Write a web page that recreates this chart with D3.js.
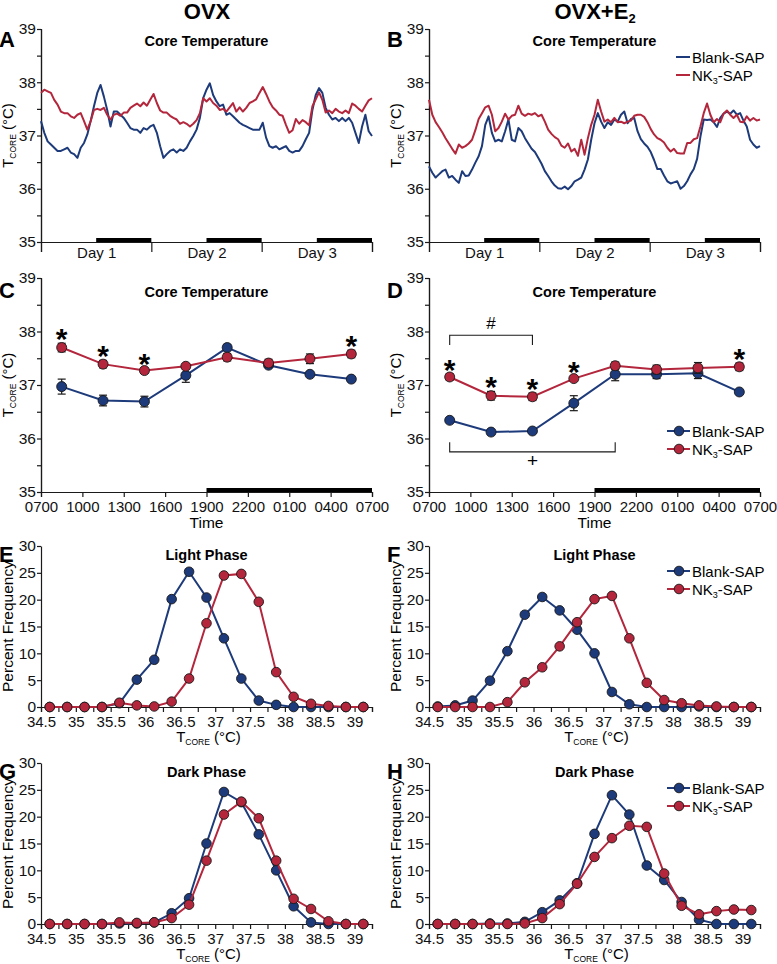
<!DOCTYPE html>
<html lang="en">
<head>
<meta charset="utf-8">
<title>Core temperature, OVX and OVX+E2</title>
<script src="https://d3js.org/d3.v7.min.js"></script>
<style>
  body { margin: 0; background: #fff; }
</style>
</head>
<body>
<svg width="777" height="964"></svg>
<script>
// ---------- data ----------

// A/B: 72 h traces, one sample every 0.72 h starting at 0700 day 1
var traceStepHours = 0.72;
var ovxBlankTrace = [37.27,37.05,36.89,36.83,36.77,36.71,36.71,36.74,36.77,36.68,
  36.65,36.58,36.77,36.86,37.02,37.27,37.55,37.80,37.95,37.73,
  37.48,37.17,37.45,37.45,37.39,37.33,37.24,37.14,37.11,37.11,
  37.05,37.14,37.11,37.17,37.20,37.05,36.80,36.58,36.65,36.71,
  36.74,36.68,36.74,36.71,36.77,36.89,36.99,37.11,37.33,37.70,
  37.86,37.98,37.76,37.64,37.55,37.58,37.39,37.42,37.36,37.30,
  37.24,37.20,37.17,37.14,37.11,37.11,37.11,37.24,36.96,36.80,
  36.77,36.80,36.74,36.77,36.80,36.71,36.68,36.71,36.71,36.80,
  36.93,37.05,37.48,37.76,37.89,37.80,37.52,37.39,37.30,37.33,
  37.27,37.33,37.27,37.33,37.24,37.05,36.86,37.17,37.39,37.08,
  36.99];
var ovxNk3Trace = [37.80,37.86,37.83,37.80,37.67,37.58,37.45,37.42,37.42,37.36,
  37.33,37.39,37.42,37.27,37.11,37.27,37.48,37.50,37.48,37.52,
  37.39,37.30,37.39,37.41,37.37,37.43,37.43,37.52,37.56,37.60,
  37.55,37.62,37.56,37.67,37.78,37.61,37.47,37.43,37.43,37.37,
  37.33,37.30,37.22,37.25,37.22,37.17,37.22,37.29,37.42,37.70,
  37.64,37.70,37.61,37.56,37.48,37.50,37.45,37.53,37.61,37.45,
  37.53,37.45,37.52,37.61,37.64,37.68,37.80,37.91,37.78,37.64,
  37.53,37.47,37.39,37.37,37.20,37.05,37.10,37.31,37.22,37.29,
  37.25,37.19,37.55,37.68,37.81,37.67,37.43,37.47,37.42,37.50,
  37.45,37.42,37.47,37.42,37.60,37.56,37.50,37.45,37.56,37.66,
  37.70];
var e2BlankTrace = [36.42,36.30,36.21,36.27,36.33,36.36,36.21,36.24,36.17,36.11,
  36.33,36.24,36.25,36.36,36.49,36.61,36.80,37.20,37.36,37.05,
  36.89,36.92,36.89,37.08,37.30,36.92,36.89,37.14,37.08,36.95,
  36.85,36.75,36.69,36.58,36.47,36.33,36.24,36.14,36.06,36.01,
  36.00,36.04,35.99,36.05,36.14,36.17,36.21,36.36,36.55,36.92,
  37.23,37.42,37.26,37.14,37.25,37.20,37.30,37.26,37.39,37.45,
  37.23,37.31,37.33,37.08,36.93,36.85,36.79,36.69,36.54,36.37,
  36.37,36.25,36.14,36.10,36.12,36.14,36.00,36.05,36.14,36.27,
  36.37,36.56,36.98,37.30,37.29,37.30,37.25,37.16,37.33,37.41,
  37.45,37.41,37.47,37.39,37.42,37.28,37.17,36.92,36.83,36.77,
  36.80];
var e2Nk3Trace = [37.67,37.39,37.25,37.16,37.06,36.95,36.85,36.75,36.66,36.83,
  36.77,36.80,36.85,36.92,37.10,37.31,37.42,37.53,37.56,37.39,
  37.08,37.14,37.26,37.41,37.30,37.37,37.39,37.56,37.41,37.37,
  37.41,37.39,37.42,37.36,37.39,37.26,37.11,37.03,36.97,36.93,
  36.81,36.77,36.85,36.70,36.75,36.62,36.92,36.64,36.95,37.20,
  37.39,37.67,37.45,37.26,37.30,37.25,37.33,37.25,37.26,37.23,
  37.26,37.28,37.37,37.39,37.39,37.35,37.25,37.12,37.02,36.95,
  36.92,36.87,36.77,36.70,36.75,36.67,36.66,36.66,36.86,36.86,
  36.93,36.95,37.17,37.42,37.60,37.39,37.25,37.31,37.25,37.41,
  37.47,37.39,37.33,37.39,37.26,37.25,37.36,37.28,37.33,37.28,
  37.30];
var dayLabels = ["Day 1", "Day 2", "Day 3"];

// C/D: 3 h bins, hours after 0700
var binTimes = [1.5, 4.5, 7.5, 10.5, 13.5, 16.5, 19.5, 22.5];
var timeTickLabels = ["0700","1000","1300","1600","1900","2200","0100","0400","0700"];
var ovxBlankMean = [36.97,36.71,36.69,37.18,37.70,37.37,37.20,37.11];
var ovxBlankSem  = [0.14,0.10,0.10,0.13,0.06,0.04,0.04,0.04];
var ovxNk3Mean   = [37.70,37.39,37.27,37.35,37.52,37.41,37.49,37.58];
var ovxNk3Sem    = [0.08,0.07,0.05,0.05,0.07,0.07,0.09,0.07];
var e2BlankMean  = [36.34,36.12,36.14,36.66,37.20,37.20,37.22,36.87];
var e2BlankSem   = [0.04,0.05,0.04,0.14,0.12,0.08,0.10,0.03];
var e2Nk3Mean    = [37.15,36.80,36.78,37.12,37.36,37.29,37.32,37.34];
var e2Nk3Sem     = [0.06,0.08,0.07,0.04,0.07,0.08,0.10,0.07];
var ovxStarBins  = [0, 1, 2, 7];
var e2StarBins   = [0, 1, 2, 3, 7];

// E-H: frequency distributions, 0.25 degC bins
var tempBins = [34.625,34.875,35.125,35.375,35.625,35.875,36.125,36.375,36.625,36.875,
  37.125,37.375,37.625,37.875,38.125,38.375,38.625,38.875,39.125];
var ovxLightBlank = [0,0,0,0,0.7,5.1,8.8,20.1,25.2,20.4,12.8,5.3,1.2,0.4,0,0,0,0,0];
var ovxLightNk3   = [0,0,0,0,0.8,0.3,0.1,1.0,5.3,15.6,24.5,24.8,19.6,6.5,1.9,0.6,0.2,0,0];
var e2LightBlank  = [0.1,0.3,1.2,4.9,10.4,17.2,20.5,18.0,14.4,10.0,2.8,0.5,0,0,0,0.1,0,0,0];
var e2LightNk3    = [0,0,0,0,0.9,4.6,7.4,11.3,15.8,20.1,20.7,12.8,4.5,1.3,0.7,0.3,0.1,0,0];
var ovxDarkBlank  = [0,0,0,0,0.1,0.1,0.3,2.0,4.8,15.0,24.6,22.7,16.7,10.0,3.3,0.3,0,0,0];
var ovxDarkNk3    = [0,0,0,0,0.3,0.2,0.3,1.1,3.6,11.8,20.4,22.8,19.7,11.8,4.7,2.8,0.5,0,0];
var e2DarkBlank   = [0,0,0,0.1,0.1,0.4,2.2,4.4,7.6,16.8,24.0,20.4,10.9,8.2,4.1,0.8,0,0,0];
var e2DarkNk3     = [0,0,0,0,0,0.1,1.1,3.7,7.5,12.5,16.0,18.3,18.1,9.4,3.4,1.8,2.4,2.7,2.6];

var tempTicks = [35, 36, 37, 38, 39];
var tempMinorTicks = [35.5, 36.5, 37.5, 38.5];
var freqTicks = [0, 5, 10, 15, 20, 25, 30];
var histLabelTicks = [34.5, 35, 35.5, 36, 36.5, 37, 37.5, 38, 38.5, 39];

// ---------- drawing ----------
var FONT = "'Liberation Sans', Arial, sans-serif";
var BLUE = "#1d3a7a", RED = "#b3263c", INK = "#1a1a1a";
var svg = d3.select("svg").attr("font-family", FONT);

var cols = [{x0: 41, x1: 372, off: 0}, {x0: 429, x1: 760, off: 388}];
var rowA = {top: 29, bottom: 242}, rowC = {top: 278, bottom: 492},
    rowE = {top: 546, bottom: 707}, rowG = {top: 763, bottom: 924};

function styleAxis(g, size) {
  g.attr("font-family", FONT).attr("font-size", size);
  g.selectAll("path.domain").attr("stroke", INK).attr("stroke-width", 1.2);
  g.selectAll(".tick line").attr("stroke", INK).attr("stroke-width", 1.2);
  g.selectAll(".tick text").attr("fill", "#111");
  return g;
}

function tcore(t, sub) {
  t.append("tspan").text("T");
  t.append("tspan").attr("font-size", sub).attr("dy", 3).text("CORE");
  t.append("tspan").attr("dy", -3).text(" (\u00B0C)");
}

function nk3Text(t) {
  t.append("tspan").text("NK");
  t.append("tspan").attr("font-size", 9).attr("dy", 3).text("3");
  t.append("tspan").attr("dy", -3).text("-SAP");
}

function panelLetter(col, y, letter) {
  svg.append("text").attr("x", col.off - 1).attr("y", y)
    .attr("font-size", 22).attr("font-weight", "bold").text(letter);
}

function panelTitle(col, y, txt) {
  svg.append("text").attr("x", (col.x0 + col.x1) / 2).attr("y", y)
    .attr("text-anchor", "middle").attr("font-size", 14.5)
    .attr("font-weight", "bold").text(txt);
}

function tempYAxis(col, y, row) {
  styleAxis(svg.append("g").attr("transform", "translate(" + col.x0 + ",0)")
    .call(d3.axisLeft(y).tickValues(tempMinorTicks).tickSize(4).tickFormat("")), 15);
  styleAxis(svg.append("g").attr("transform", "translate(" + col.x0 + ",0)")
    .call(d3.axisLeft(y).tickValues(tempTicks).tickSize(4).tickSizeOuter(0).tickPadding(1)
      .tickFormat(d3.format("d"))), 15.5);
  var lab = svg.append("text").attr("text-anchor", "middle").attr("font-size", 15)
    .attr("transform", "translate(" + (col.off + 13) + "," + ((row.top + row.bottom) / 2) + ") rotate(-90)");
  tcore(lab, 8.5);
}

function darkBars(x, y, from, to) {
  svg.append("rect").attr("x", x(from)).attr("y", y(35) - 4)
    .attr("width", x(to) - x(from)).attr("height", 4).attr("fill", "#000");
}

function lineLegend(x, y, withDots) {
  [{c: BLUE, name: "Blank-SAP"}, {c: RED, name: null}].forEach(function (s, i) {
    var yy = y + i * 18;
    svg.append("line").attr("x1", x - (withDots ? 25 : 16)).attr("x2", x - 2)
      .attr("y1", yy).attr("y2", yy).attr("stroke", s.c).attr("stroke-width", 2);
    if (withDots) {
      svg.append("circle").attr("cx", x - 13).attr("cy", yy).attr("r", 4.8)
        .attr("fill", s.c).attr("stroke", INK).attr("stroke-width", 0.9);
    }
    var t = svg.append("text").attr("x", x).attr("y", yy + 5.5).attr("font-size", 15);
    if (s.name) t.text(s.name); else nk3Text(t);
  });
}

// ---- A / B ----
function tracePanel(col, blank, nk3, letter, legend) {
  var x = d3.scaleLinear().domain([0, 72]).range([col.x0, col.x1]);
  var y = d3.scaleLinear().domain([35, 39]).range([rowA.bottom, rowA.top]);
  [[12, 24], [36, 48], [60, 72]].forEach(function (d) { darkBars(x, y, d[0], d[1]); });
  styleAxis(svg.append("g").attr("transform", "translate(0," + rowA.bottom + ")")
    .call(d3.axisBottom(x).tickValues([0, 24, 48, 72]).tickSize(10).tickFormat("")), 15);
  styleAxis(svg.append("g").attr("transform", "translate(0," + rowA.bottom + ")")
    .call(d3.axisBottom(x).tickValues([12, 36, 60]).tickSize(0).tickPadding(5)
      .tickFormat(function (d, i) { return dayLabels[i]; })), 15)
    .select("path.domain").remove();
  tempYAxis(col, y, rowA);
  var line = d3.line().x(function (d, i) { return x(i * traceStepHours); }).y(function (d) { return y(d); });
  svg.append("path").datum(blank).attr("d", line).attr("fill", "none")
    .attr("stroke", BLUE).attr("stroke-width", 2).attr("stroke-linejoin", "round");
  svg.append("path").datum(nk3).attr("d", line).attr("fill", "none")
    .attr("stroke", RED).attr("stroke-width", 2).attr("stroke-linejoin", "round");
  panelLetter(col, 47, letter);
  panelTitle(col, 46, "Core Temperature");
  if (legend) lineLegend(692, 57, false);
}

// ---- C / D ----
function binPanel(col, bm, bs, nm, ns, stars, letter, extra) {
  var x = d3.scaleLinear().domain([0, 24]).range([col.x0, col.x1]);
  var y = d3.scaleLinear().domain([35, 39]).range([rowC.bottom, rowC.top]);
  darkBars(x, y, 12, 24);
  styleAxis(svg.append("g").attr("transform", "translate(0," + rowC.bottom + ")")
    .call(d3.axisBottom(x).tickValues(d3.range(0, 25, 3)).tickSize(5).tickPadding(4)
      .tickFormat(function (d, i) { return timeTickLabels[i]; })), 15);
  tempYAxis(col, y, rowC);
  svg.append("text").attr("x", (col.x0 + col.x1) / 2).attr("y", 528)
    .attr("text-anchor", "middle").attr("font-size", 15.5).text("Time");

  [{m: bm, s: bs, c: BLUE}, {m: nm, s: ns, c: RED}].forEach(function (g) {
    svg.append("path").datum(g.m).attr("fill", "none").attr("stroke", g.c).attr("stroke-width", 2)
      .attr("d", d3.line().x(function (d, i) { return x(binTimes[i]); }).y(function (d) { return y(d); }));
    var eb = svg.append("g").attr("stroke", INK).attr("stroke-width", 1.2);
    g.m.forEach(function (v, i) {
      var cx = x(binTimes[i]), y1 = y(v + g.s[i]), y2 = y(v - g.s[i]);
      eb.append("line").attr("x1", cx).attr("x2", cx).attr("y1", y1).attr("y2", y2);
      eb.append("line").attr("x1", cx - 4).attr("x2", cx + 4).attr("y1", y1).attr("y2", y1);
      eb.append("line").attr("x1", cx - 4).attr("x2", cx + 4).attr("y1", y2).attr("y2", y2);
    });
    svg.append("g").selectAll("circle").data(g.m).enter().append("circle")
      .attr("cx", function (d, i) { return x(binTimes[i]); })
      .attr("cy", function (d) { return y(d); })
      .attr("r", 5).attr("fill", g.c).attr("stroke", INK).attr("stroke-width", 0.9);
  });
  stars.forEach(function (i) {
    var top = Math.min(y(nm[i] + ns[i]), y(bm[i] + bs[i]));
    svg.append("text").attr("x", x(binTimes[i])).attr("y", top + 6)
      .attr("text-anchor", "middle").attr("font-size", 30).attr("font-weight", "bold").text("*");
  });
  panelLetter(col, 298, letter);
  panelTitle(col, 297, "Core Temperature");
  if (extra) extra(x, y);
}

// ---- E-H ----
function histPanel(col, row, blank, nk3, letter, title, legend) {
  var x = d3.scaleLinear().domain([34.5, 39.25]).range([col.x0, col.x1]);
  var y = d3.scaleLinear().domain([0, 30]).range([row.bottom, row.top]);
  styleAxis(svg.append("g").attr("transform", "translate(0," + row.bottom + ")")
    .call(d3.axisBottom(x).tickValues(d3.range(34.75, 39.3, 0.5)).tickSize(5).tickFormat("")), 15);
  styleAxis(svg.append("g").attr("transform", "translate(0," + row.bottom + ")")
    .call(d3.axisBottom(x).tickValues(histLabelTicks).tickSize(5).tickSizeOuter(0).tickPadding(4)
      .tickFormat(function (d) { return String(d); })), 15);
  styleAxis(svg.append("g").attr("transform", "translate(" + col.x0 + ",0)")
    .call(d3.axisLeft(y).tickValues(freqTicks).tickSize(4).tickSizeOuter(0).tickPadding(1)
      .tickFormat(d3.format("d"))), 15.5);
  svg.append("text").attr("text-anchor", "middle").attr("font-size", 15.5)
    .attr("transform", "translate(" + (col.off + 13) + "," + ((row.top + row.bottom) / 2) + ") rotate(-90)")
    .text("Percent Frequency");
  var xl = svg.append("text").attr("x", (col.x0 + col.x1) / 2 + 2).attr("y", row.bottom + 35)
    .attr("text-anchor", "middle").attr("font-size", 15);
  tcore(xl, 8.5);

  [{v: blank, c: BLUE}, {v: nk3, c: RED}].forEach(function (g) {
    svg.append("path").datum(g.v).attr("fill", "none").attr("stroke", g.c).attr("stroke-width", 2)
      .attr("d", d3.line().x(function (d, i) { return x(tempBins[i]); }).y(function (d) { return y(d); }));
    svg.append("g").selectAll("circle").data(g.v).enter().append("circle")
      .attr("cx", function (d, i) { return x(tempBins[i]); })
      .attr("cy", function (d) { return y(d); })
      .attr("r", 4.8).attr("fill", g.c).attr("stroke", INK).attr("stroke-width", 0.9);
  });
  panelLetter(col, row.top + 16, letter);
  panelTitle(col, row.top + 14, title);
  if (legend) lineLegend(692, row.top + 25, true);
}

// column headers
svg.append("text").attr("x", 207).attr("y", 19).attr("text-anchor", "middle")
  .attr("font-size", 22).attr("font-weight", "bold").text("OVX");
var h2 = svg.append("text").attr("x", 595).attr("y", 19).attr("text-anchor", "middle")
  .attr("font-size", 22).attr("font-weight", "bold");
h2.append("tspan").text("OVX+E");
h2.append("tspan").attr("font-size", 13).attr("dy", 4).text("2");

tracePanel(cols[0], ovxBlankTrace, ovxNk3Trace, "A", false);
tracePanel(cols[1], e2BlankTrace, e2Nk3Trace, "B", true);

binPanel(cols[0], ovxBlankMean, ovxBlankSem, ovxNk3Mean, ovxNk3Sem, ovxStarBins, "C", null);
binPanel(cols[1], e2BlankMean, e2BlankSem, e2Nk3Mean, e2Nk3Sem, e2StarBins, "D", function (x, y) {
  var br = svg.append("g").attr("fill", "none").attr("stroke", INK).attr("stroke-width", 1.1);
  var xa = x(binTimes[0]), xb = x(binTimes[2]), xc = x(binTimes[4]);
  br.append("path").attr("d", "M" + xa + "," + y(37.75) + "V" + y(37.93) + "H" + xb + "V" + y(37.75));
  br.append("path").attr("d", "M" + xa + "," + y(35.93) + "V" + y(35.75) + "H" + xc + "V" + y(35.93));
  svg.append("text").attr("x", (xa + xb) / 2).attr("y", y(37.93) - 6)
    .attr("text-anchor", "middle").attr("font-size", 17).text("#");
  svg.append("text").attr("x", (xa + xc) / 2).attr("y", y(35.75) + 15)
    .attr("text-anchor", "middle").attr("font-size", 19).text("+");
  lineLegend(692, 431, true);
});

histPanel(cols[0], rowE, ovxLightBlank, ovxLightNk3, "E", "Light Phase", false);
histPanel(cols[1], rowE, e2LightBlank, e2LightNk3, "F", "Light Phase", true);
histPanel(cols[0], rowG, ovxDarkBlank, ovxDarkNk3, "G", "Dark Phase", false);
histPanel(cols[1], rowG, e2DarkBlank, e2DarkNk3, "H", "Dark Phase", true);
</script>
</body>
</html>
